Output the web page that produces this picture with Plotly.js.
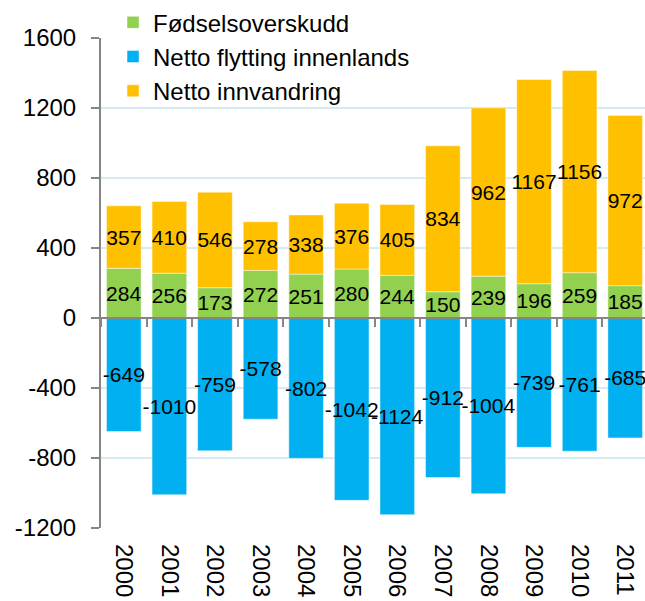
<!DOCTYPE html>
<html>
<head>
<meta charset="utf-8">
<script src="https://cdn.plot.ly/plotly-3.0.1.min.js"></script>
<style>
html,body{margin:0;padding:0;overflow:hidden;background:#fff;}
#chart{width:660px;height:601px;}
</style>
</head>
<body>
<div id="chart"></div>
<script>
const years = ["2000","2001","2002","2003","2004","2005","2006","2007","2008","2009","2010","2011"];
const fodselsoverskudd = [284,256,173,272,251,280,244,150,239,196,259,185];
const flyttingInnenlands = [-649,-1010,-759,-578,-802,-1042,-1124,-912,-1004,-739,-761,-685];
const innvandring = [357,410,546,278,338,376,405,834,962,1167,1156,972];
const seriesNames = ["Fødselsoverskudd","Netto flytting innenlands","Netto innvandring"];
const yTicks = [-1200,-800,-400,0,400,800,1200,1600];

const yMin = -1200, yMax = 1600;
const font = "Liberation Sans, Arial, sans-serif";

function barTrace(name, vals, color){
  return {
    type:'bar', name:name, x:years, y:vals,
    text: vals.map(String),
    textposition:'inside', insidetextanchor:'middle', textangle:0,
    constraintext:'none', cliponaxis:false,
    textfont:{family:font, size:21, color:'#000'},
    marker:{color:color, line:{color:'rgba(255,255,255,0.45)', width:1}},
    hoverinfo:'x+y+name'
  };
}

const data = [
  barTrace(seriesNames[0], fodselsoverskudd, '#92D050'),
  barTrace(seriesNames[1], flyttingInnenlands, '#00B0F0'),
  barTrace(seriesNames[2], innvandring, '#FFC000'),
  {type:'scatter', mode:'markers', x:years, y:fodselsoverskudd, xaxis:'x2', yaxis:'y',
   marker:{size:1, opacity:0}, showlegend:false, hoverinfo:'skip'}
];

const layout = {
  width:660, height:601,
  margin:{l:101, r:12, t:38, b:73, autoexpand:false},
  paper_bgcolor:'#fff', plot_bgcolor:'#fff',
  barmode:'relative', bargap:0.24,
  font:{family:font, size:21, color:'#000'},
  showlegend:true,
  legend:{
    x:0.022, xanchor:'left', y:1.077, yanchor:'top',
    bgcolor:'rgba(255,255,255,0)', traceorder:'normal',
    font:{family:font, size:24, color:'#000'}
  },
  xaxis:{
    type:'category', range:[-0.5,11.5], tickangle:90,
    showgrid:false, zeroline:false, showline:false, ticks:'',
    ticklabelstandoff:15,
    tickfont:{family:font, size:24, color:'#000'}
  },
  xaxis2:{
    type:'category', overlaying:'x', anchor:'free',
    position:(0 - yMin)/(yMax - yMin),
    range:[-0.5,11.5], showticklabels:false, showgrid:false, zeroline:false,
    showline:true, linecolor:'#868686', linewidth:2,
    ticks:'outside', tickson:'boundaries', ticklen:8, tickwidth:2, tickcolor:'#868686'
  },
  yaxis:{
    range:[yMin,yMax], tickvals:yTicks, ticktext:yTicks.map(String),
    showgrid:true, gridcolor:'#D5EAF3', gridwidth:2, zeroline:false,
    showline:true, linecolor:'#868686', linewidth:2,
    ticks:'outside', ticklen:8, tickwidth:2, tickcolor:'#868686',
    ticklabelstandoff:10,
    tickfont:{family:font, size:24, color:'#000'}
  }
};

Plotly.newPlot('chart', data, layout, {displayModeBar:false, staticPlot:true});
</script>
</body>
</html>
